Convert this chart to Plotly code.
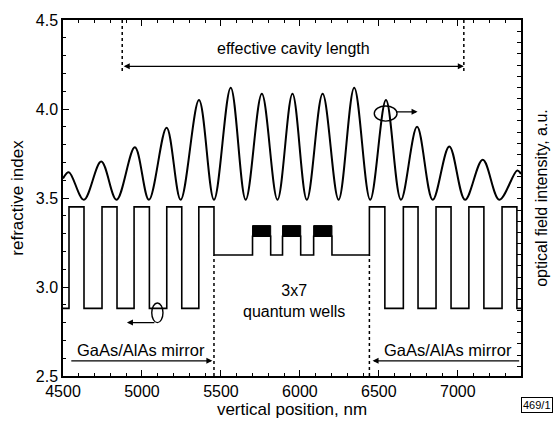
import plotly.graph_objects as go

# ---------------- data ----------------
# refractive index step profile (value holds from each x to the next x)
index_x = [4500, 4538, 4633, 4747, 4842, 4950, 5047, 5157, 5252, 5360, 5456,
           5700, 5815, 5890, 6005, 6087, 6203, 6440, 6538, 6655, 6748, 6862,
           6957, 7070, 7165, 7280, 7374, 7400]
index_y = [2.88, 3.45, 2.88, 3.45, 2.88, 3.45, 2.88, 3.45, 2.88, 3.45, 3.18,
           3.285, 3.18, 3.285, 3.18, 3.285, 3.18, 3.45, 2.88, 3.45, 2.88, 3.45,
           2.88, 3.45, 2.88, 3.45, 2.88, 2.88]

# quantum well groups (black blocks)
qw_start = [5700, 5890, 6087]
qw_end = [5815, 6005, 6203]
qw_low = 3.285
qw_high = 3.345

# optical field intensity (peaks and valleys)
field_x = [4500, 4537, 4632, 4742, 4839, 4955, 5044, 5156, 5245, 5361, 5456,
           5562, 5657, 5759, 5858, 5953, 6044, 6144, 6245, 6344, 6445, 6545,
           6640, 6742, 6841, 6946, 7046, 7158, 7263, 7376, 7400]
field_y = [3.61, 3.645, 3.49, 3.705, 3.49, 3.785, 3.49, 3.895, 3.49, 4.05, 3.49,
           4.12, 3.49, 4.085, 3.49, 4.085, 3.49, 4.085, 3.49, 4.12, 3.49, 4.05,
           3.49, 3.90, 3.49, 3.79, 3.49, 3.715, 3.49, 3.655, 3.635]

# boundaries
mirror_edges = [5456, 6440]
cavity_edges = [4875, 7038]

FONT = "Liberation Sans, Arial, sans-serif"

fig = go.Figure()

# refractive index profile
fig.add_trace(go.Scatter(x=index_x, y=index_y, mode="lines", line_shape="hv",
                         line=dict(color="black", width=1.6), hoverinfo="skip"))

# quantum well blocks
for s, e in zip(qw_start, qw_end):
    fig.add_trace(go.Scatter(x=[s, e, e, s, s], y=[qw_low, qw_low, qw_high, qw_high, qw_low],
                             mode="lines", fill="toself", fillcolor="black",
                             line=dict(color="black", width=1), hoverinfo="skip"))

# optical field
fig.add_trace(go.Scatter(x=field_x, y=field_y, mode="lines", line_shape="spline",
                         line=dict(color="black", width=2, smoothing=1.0), hoverinfo="skip"))

# dotted boundary lines (mirror)
for xe in mirror_edges:
    fig.add_trace(go.Scatter(x=[xe, xe], y=[2.5, 3.18], mode="lines",
                             line=dict(color="black", width=1.5, dash="dot"), hoverinfo="skip"))
# dotted boundary lines (cavity)
for xe in cavity_edges:
    fig.add_trace(go.Scatter(x=[xe, xe], y=[4.5, 4.2], mode="lines",
                             line=dict(color="black", width=1.5, dash="dot"), hoverinfo="skip"))

# dummy trace for right axis
fig.add_trace(go.Scatter(x=[4500], y=[1], yaxis="y2", mode="markers",
                         marker=dict(opacity=0), hoverinfo="skip"))

anns = []
# cavity length double arrow
anns.append(dict(x=cavity_edges[1], y=4.24, ax=cavity_edges[0], ay=4.24,
                 xref="x", yref="y", axref="x", ayref="y", text="",
                 showarrow=True, arrowhead=2, arrowside="end+start",
                 arrowsize=1, arrowwidth=1.2, arrowcolor="black"))
anns.append(dict(x=5958, y=4.34, text="effective cavity length", showarrow=False,
                 font=dict(size=16, family=FONT, color="black")))
# mirror arrows
anns.append(dict(x=5446, y=2.585, ax=4543, ay=2.585, xref="x", yref="y",
                 axref="x", ayref="y", text="", showarrow=True, arrowhead=2,
                 arrowsize=1, arrowwidth=1.2, arrowcolor="black"))
anns.append(dict(x=6460, y=2.585, ax=7398, ay=2.585, xref="x", yref="y",
                 axref="x", ayref="y", text="", showarrow=True, arrowhead=2,
                 arrowsize=1, arrowwidth=1.2, arrowcolor="black"))
anns.append(dict(x=4992, y=2.648, text="GaAs/AlAs mirror", showarrow=False,
                 font=dict(size=16.5, family=FONT, color="black")))
anns.append(dict(x=6935, y=2.648, text="GaAs/AlAs mirror", showarrow=False,
                 font=dict(size=16.5, family=FONT, color="black")))
# quantum wells label
anns.append(dict(x=5965, y=2.92, text="3x7<br>quantum wells", showarrow=False,
                 font=dict(size=16, family=FONT, color="black")))
# ellipse pointer arrows
anns.append(dict(x=4905, y=2.80, ax=5088, ay=2.80, xref="x", yref="y",
                 axref="x", ayref="y", text="", showarrow=True, arrowhead=2,
                 arrowsize=1, arrowwidth=1.2, arrowcolor="black"))
anns.append(dict(x=6745, y=3.984, ax=6600, ay=3.984, xref="x", yref="y",
                 axref="x", ayref="y", text="", showarrow=True, arrowhead=2,
                 arrowsize=1, arrowwidth=1.2, arrowcolor="black"))
# figure tag (outside plot, bottom right)
anns.append(dict(x=1.07, y=-0.082, xref="paper", yref="paper", text="469/1",
                 xanchor="right", yanchor="middle", showarrow=False,
                 font=dict(size=11, family=FONT, color="black"),
                 bordercolor="black", borderwidth=1, borderpad=1))

fig.update_layout(annotations=anns)

shapes = [
    dict(type="circle", xref="x", yref="y", x0=5062, x1=5133, y0=2.80, y1=2.91,
         line=dict(color="black", width=1.4)),
    dict(type="circle", xref="x", yref="y", x0=6471, x1=6615, y0=3.932, y1=4.017,
         line=dict(color="black", width=1.4)),
]
fig.update_layout(shapes=shapes)

axis_font = dict(size=16, family=FONT, color="black")
fig.update_layout(
    width=558, height=426,
    margin=dict(l=63, r=37, t=13, b=46, pad=0),
    paper_bgcolor="white", plot_bgcolor="white",
    showlegend=False,
    font=dict(family=FONT, color="black"),
    xaxis=dict(range=[4500, 7400], dtick=500, tick0=4500, showgrid=False, zeroline=False,
               showline=True, linecolor="black", linewidth=1.5, mirror="ticks",
               ticks="inside", ticklen=6, tickwidth=1.2, tickcolor="black",
               tickfont=axis_font,
               minor=dict(dtick=100, ticks="inside", ticklen=3, tickwidth=1, tickcolor="black"),
               title=dict(text="vertical position, nm", font=dict(size=17, family=FONT, color="black"),
                          standoff=2)),
    yaxis=dict(range=[2.5, 4.5], dtick=0.5, tick0=2.5, showgrid=False, zeroline=False,
               showline=True, linecolor="black", linewidth=1.5,
               ticks="inside", ticklen=6, tickwidth=1.2, tickcolor="black",
               tickfont=axis_font, tickformat=".1f",
               minor=dict(dtick=0.1, ticks="inside", ticklen=3, tickwidth=1, tickcolor="black"),
               title=dict(text="refractive index", font=dict(size=17, family=FONT, color="black"),
                          standoff=8)),
    yaxis2=dict(range=[0.13, 32.04], dtick=1, tick0=0, overlaying="y", side="right",
                showgrid=False, zeroline=False, showline=True, linecolor="black", linewidth=1.5,
                ticks="inside", ticklen=4, tickwidth=1, tickcolor="black",
                showticklabels=False,
                title=dict(text="optical field intensity, a.u.",
                           font=dict(size=16, family=FONT, color="black"), standoff=14)),
)

fig.write_html("out.html")
